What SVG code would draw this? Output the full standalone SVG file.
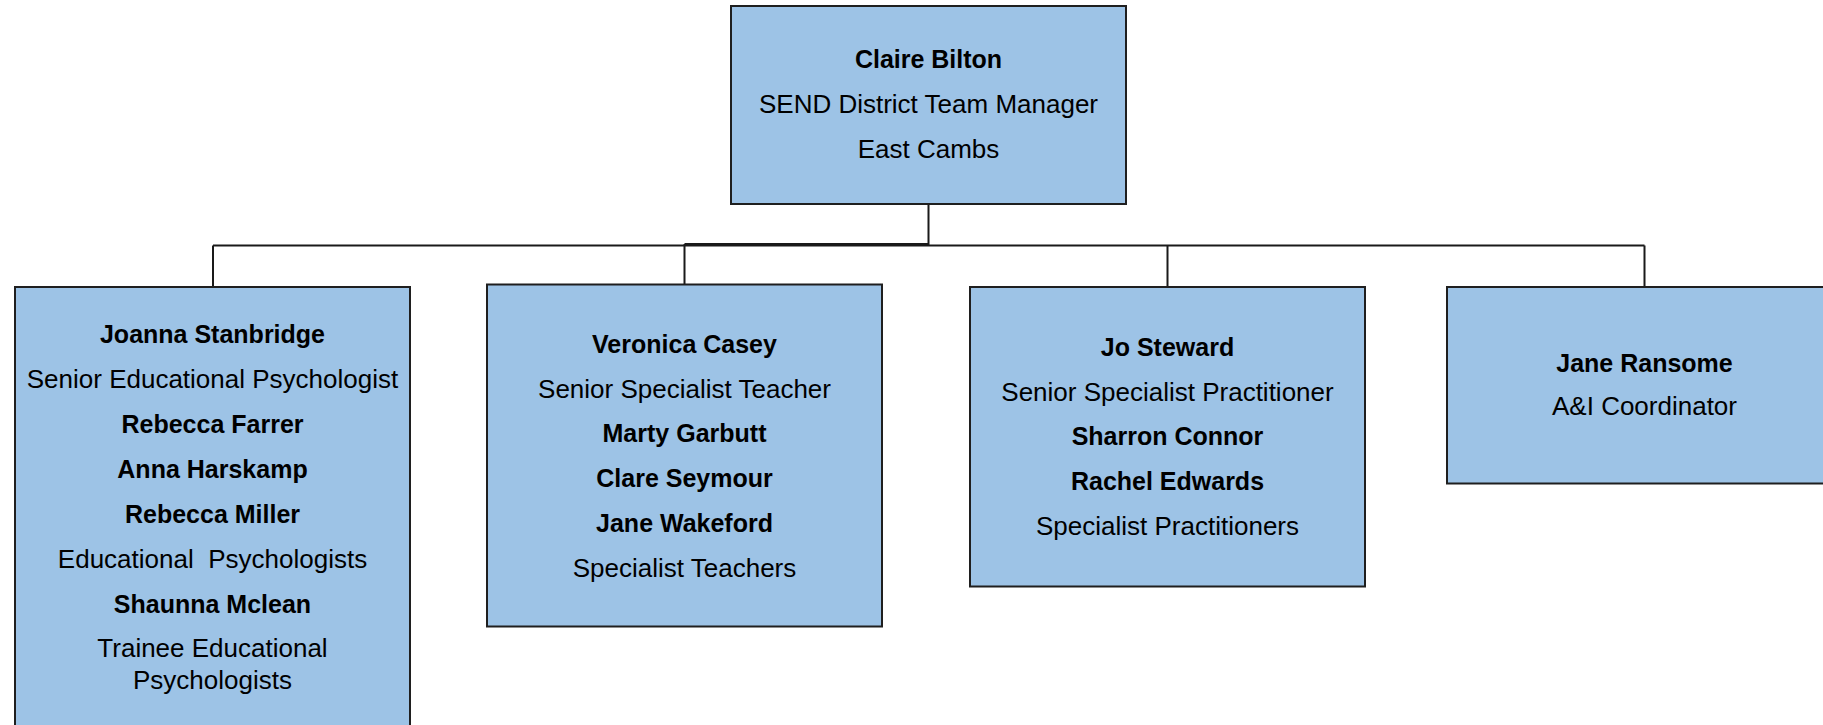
<svg xmlns="http://www.w3.org/2000/svg" width="1823" height="725" viewBox="0 0 1823 725">
<style>
.box{fill:#9DC3E6;stroke:#1f1f1f;stroke-width:2}
.t{font-family:"Liberation Sans",Arial,sans-serif;font-size:26px;fill:#000;text-anchor:middle}
.b{font-weight:bold;font-size:25px}
.c{stroke:#1a1a1a;stroke-width:2;fill:none}
</style>
<rect width="1823" height="725" fill="#fff"/>
<g id="connectors">
<path class="c" d="M928.5 204V246M213 245.5H1644.5M213 245.5V287M684.5 244H928.5M684.5 244V284.5M1167.5 245.5V287M1644.5 245.5V287"/>
</g>
<g id="claire-bilton">
<rect class="box" x="731" y="6" width="395" height="198"/>
<text class="t b" x="928.5" y="68">Claire Bilton</text>
<text class="t" x="928.5" y="113">SEND District Team Manager</text>
<text class="t" x="928.5" y="158">East Cambs</text>
</g>
<g id="joanna-stanbridge">
<rect class="box" x="15" y="287" width="395" height="460"/>
<text class="t b" x="212.5" y="343">Joanna Stanbridge</text>
<text class="t" x="212.5" y="388">Senior Educational Psychologist</text>
<text class="t b" x="212.5" y="433">Rebecca Farrer</text>
<text class="t b" x="212.5" y="477.5">Anna Harskamp</text>
<text class="t b" x="212.5" y="522.5">Rebecca Miller</text>
<text class="t" x="212.5" y="568" xml:space="preserve">Educational&#160; Psychologists</text>
<text class="t b" x="212.5" y="612.5">Shaunna Mclean</text>
<text class="t" x="212.5" y="657">Trainee Educational</text>
<text class="t" x="212.5" y="689">Psychologists</text>
</g>
<g id="veronica-casey">
<rect class="box" x="487" y="284.5" width="395" height="342"/>
<text class="t b" x="684.5" y="353">Veronica Casey</text>
<text class="t" x="684.5" y="397.5">Senior Specialist Teacher</text>
<text class="t b" x="684.5" y="442">Marty Garbutt</text>
<text class="t b" x="684.5" y="487">Clare Seymour</text>
<text class="t b" x="684.5" y="531.5">Jane Wakeford</text>
<text class="t" x="684.5" y="576.5">Specialist Teachers</text>
</g>
<g id="jo-steward">
<rect class="box" x="970" y="287" width="395" height="299.5"/>
<text class="t b" x="1167.5" y="355.5">Jo Steward</text>
<text class="t" x="1167.5" y="400.5">Senior Specialist Practitioner</text>
<text class="t b" x="1167.5" y="445">Sharron Connor</text>
<text class="t b" x="1167.5" y="490">Rachel Edwards</text>
<text class="t" x="1167.5" y="535">Specialist Practitioners</text>
</g>
<g id="jane-ransome">
<rect class="box" x="1447" y="287" width="395" height="196.5"/>
<text class="t b" x="1644.5" y="371.5">Jane Ransome</text>
<text class="t" x="1644.5" y="415">A&amp;I Coordinator</text>
</g>
</svg>
